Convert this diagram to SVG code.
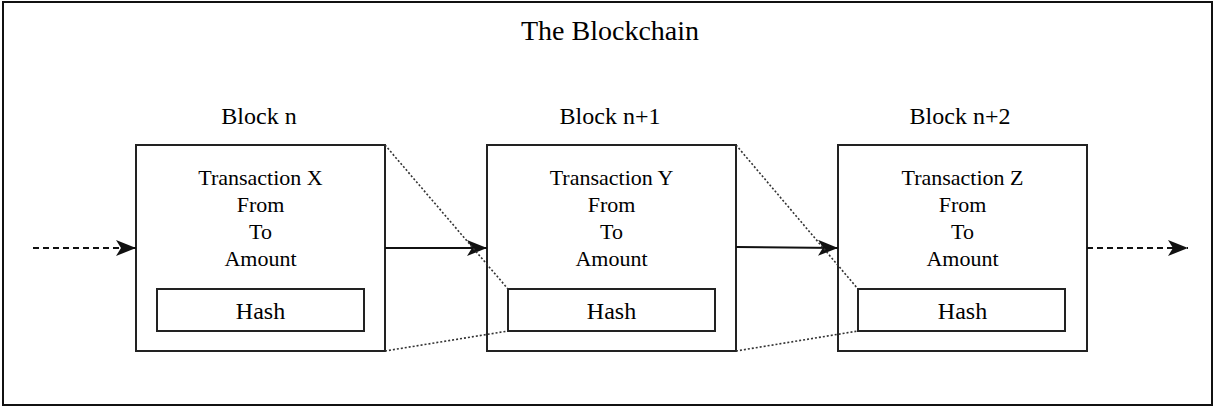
<svg xmlns="http://www.w3.org/2000/svg" width="1216" height="407" viewBox="0 0 1216 407">
  <style>
    .frame { fill: #fff; stroke: #111; stroke-width: 2; }
    .block { fill: #fff; stroke: #222; stroke-width: 2; }
    .hash { fill: #fff; stroke: #222; stroke-width: 2; }
    text { font-family: "Liberation Serif", "Times New Roman", serif; fill: #000; text-anchor: middle; }
    .title { font-size: 28px; }
    .label { font-size: 24px; }
    .body { font-size: 22px; }
    .hashtxt { font-size: 24px; }
    .link { stroke: #111; stroke-width: 2; fill: none; }
    .dash { stroke-dasharray: 6 4; }
    .dot { stroke: #333; stroke-width: 1.6; stroke-dasharray: 2 2; fill: none; }
  </style>
  <defs>
    <marker id="head" markerWidth="20" markerHeight="16" refX="20" refY="8" orient="auto" markerUnits="userSpaceOnUse">
      <path d="M0,0 L20,8 L0,16 L5,8 Z" fill="#111"/>
    </marker>
  </defs>

  <rect class="frame" x="3" y="2" width="1209" height="403"/>
  <text class="title" x="610" y="40">The Blockchain</text>

  <g id="block-n">
    <text class="label" x="259" y="124">Block n</text>
    <rect class="block" x="136" y="145" width="249" height="206"/>
    <text class="body" x="260.5" y="185">Transaction X</text>
    <text class="body" x="260.5" y="212">From</text>
    <text class="body" x="260.5" y="239">To</text>
    <text class="body" x="260.5" y="266">Amount</text>
    <rect class="hash" x="157" y="289" width="207" height="42"/>
    <text class="hashtxt" x="260.5" y="319">Hash</text>
  </g>

  <g id="block-n1">
    <text class="label" x="610" y="124">Block n+1</text>
    <rect class="block" x="487" y="145" width="249" height="206"/>
    <text class="body" x="611.5" y="185">Transaction Y</text>
    <text class="body" x="611.5" y="212">From</text>
    <text class="body" x="611.5" y="239">To</text>
    <text class="body" x="611.5" y="266">Amount</text>
    <rect class="hash" x="508" y="289" width="207" height="42"/>
    <text class="hashtxt" x="611.5" y="319">Hash</text>
  </g>

  <g id="block-n2">
    <text class="label" x="960" y="124">Block n+2</text>
    <rect class="block" x="838" y="145" width="249" height="206"/>
    <text class="body" x="962.5" y="185">Transaction Z</text>
    <text class="body" x="962.5" y="212">From</text>
    <text class="body" x="962.5" y="239">To</text>
    <text class="body" x="962.5" y="266">Amount</text>
    <rect class="hash" x="858" y="289" width="207" height="42"/>
    <text class="hashtxt" x="962.5" y="319">Hash</text>
  </g>

  <g id="connectors">
    <!-- chain links -->
    <line class="link dash" x1="33" y1="248" x2="136" y2="248" marker-end="url(#head)"/>
    <line class="link" x1="385" y1="248" x2="487" y2="248" marker-end="url(#head)"/>
    <line class="link" x1="736" y1="247" x2="838" y2="248" marker-end="url(#head)"/>
    <line class="link dash" x1="1087" y1="248" x2="1188" y2="248" marker-end="url(#head)"/>
    <!-- hash projections -->
    <line class="dot" x1="385" y1="145" x2="508" y2="289"/>
    <line class="dot" x1="385" y1="351" x2="508" y2="331"/>
    <line class="dot" x1="736" y1="145" x2="858" y2="289"/>
    <line class="dot" x1="736" y1="351" x2="858" y2="331"/>
  </g>
</svg>
